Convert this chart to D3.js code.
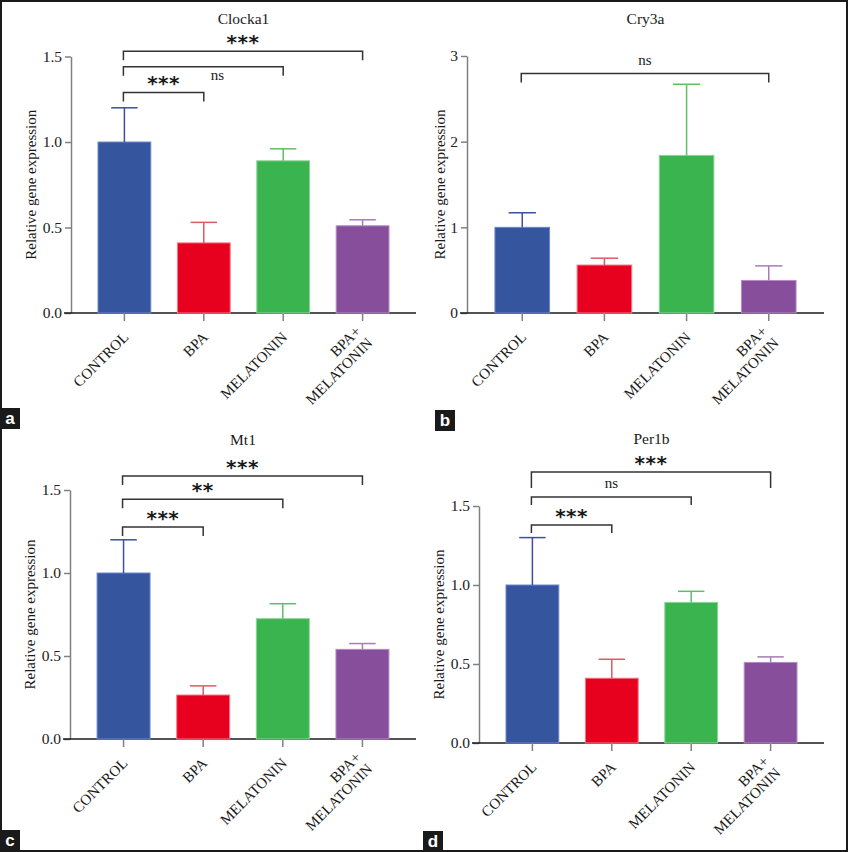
<!DOCTYPE html>
<html>
<head>
<meta charset="utf-8">
<script src="https://cdn.jsdelivr.net/npm/d3@7"></script>
<style>
    body { margin: 0; background: #fff; }
</style>
</head>
<body>
<svg id="fig" width="848" height="852" font-family="'Liberation Serif', 'Times New Roman', serif"></svg>
<script>
'use strict';

var groups = ['CONTROL', 'BPA', 'MELATONIN', 'BPA+\nMELATONIN'];
var barColors = ['#35559f', '#e8001f', '#3ab44f', '#874f9b'];
var edgeColors = ['#6f88c9', '#f27a8c', '#8fd39a', '#b58ac6'];
var errColors = ['#3c4fa0', '#dc5a63', '#5fbd66', '#a47cbc'];

var clockaMean = [1.00, 0.41, 0.89, 0.51];
var clockaSd = [0.20, 0.12, 0.07, 0.035];
var cryMean = [1.00, 0.56, 1.84, 0.38];
var crySd = [0.17, 0.08, 0.83, 0.17];
var mtMean = [1.00, 0.265, 0.725, 0.54];
var mtSd = [0.20, 0.055, 0.09, 0.035];
var perMean = [1.00, 0.41, 0.89, 0.51];
var perSd = [0.30, 0.12, 0.07, 0.035];

var ticksHalf = [0, 0.5, 1.0, 1.5];
var ticksWhole = [0, 1, 2, 3];

// comparisons: [from group, to group, bracket level, label]
var clockaSig = [[0, 3, 1.53, '***'], [0, 2, 1.44, 'ns'], [0, 1, 1.29, '***']];
var crySig = [[0, 3, 2.795, 'ns']];
var mtSig = [[0, 3, 1.585, '***'], [0, 2, 1.445, '**'], [0, 1, 1.277, '***']];
var perSig = [[0, 3, 1.715, '***'], [0, 2, 1.557, 'ns'], [0, 1, 1.38, '***']];

var panels = [
    { tag: 'a', title: 'Clocka1', mean: clockaMean, sd: clockaSd, sig: clockaSig, ticks: ticksHalf, fmt: '.1f',
      axisX: 71, xEnd: 416, y0: 313, yTop: 56.5, titleY: 24, labelX: 31, tagAt: [0, 408],
      legs: [9, 9, 9], nudge: [[0, 0], [14, 22], [0, 0]] },
    { tag: 'b', title: 'Cry3a', mean: cryMean, sd: crySd, sig: crySig, ticks: ticksWhole, fmt: 'd',
      axisX: 467, xEnd: 824, y0: 313, yTop: 56, titleY: 24, labelX: 440, tagAt: [435, 410],
      legs: [9], nudge: [[0, 0]] },
    { tag: 'c', title: 'Mt1', mean: mtMean, sd: mtSd, sig: mtSig, ticks: ticksHalf, fmt: '.1f',
      axisX: 70, xEnd: 416, y0: 739, yTop: 490, titleY: 445, labelX: 30, tagAt: [0, 830],
      legs: [9, 9, 9], nudge: [[0, 0], [0, 0], [0, 0]] },
    { tag: 'd', title: 'Per1b', mean: perMean, sd: perSd, sig: perSig, ticks: ticksHalf, fmt: '.1f',
      axisX: 479, xEnd: 824, y0: 743, yTop: 506, titleY: 444, labelX: 439, tagAt: [423, 831],
      legs: [16, 8, 8], nudge: [[0, 0], [0, 0], [0, 0]] }
];

var svg = d3.select('#fig');

svg.append('rect')
    .attr('x', 1).attr('y', 1)
    .attr('width', 846).attr('height', 850)
    .attr('fill', 'none')
    .attr('stroke', '#1a1a1a')
    .attr('stroke-width', 2);

panels.forEach(function (p) {
    var g = svg.append('g');
    var y = d3.scaleLinear()
        .domain([0, p.ticks[p.ticks.length - 1]])
        .range([p.y0, p.yTop]);
    var x = d3.scaleBand()
        .domain(groups)
        .range([p.axisX, p.xEnd])
        .paddingInner(0.335)
        .paddingOuter(0.34);
    var bw = x.bandwidth();
    var cx = function (i) { return x(groups[i]) + bw / 2; };

    // y axis
    var ya = g.append('g')
        .attr('transform', 'translate(' + p.axisX + ',0)')
        .call(d3.axisLeft(y).tickValues(p.ticks).tickFormat(d3.format(p.fmt))
            .tickSize(6).tickSizeOuter(0).tickPadding(3));
    ya.select('.domain').attr('stroke', '#808080').attr('stroke-width', 1.5);
    ya.selectAll('.tick line').attr('stroke', '#808080').attr('stroke-width', 1.5);
    ya.selectAll('.tick text')
        .attr('font-family', 'Liberation Serif')
        .attr('font-size', 15.5)
        .attr('fill', '#222');

    // x axis
    var xa = g.append('g')
        .attr('transform', 'translate(0,' + y(0) + ')')
        .call(d3.axisBottom(x).tickSize(8).tickSizeOuter(0).tickFormat(''));
    xa.select('.domain')
        .attr('d', 'M' + (p.axisX - 7) + ',0H' + p.xEnd)
        .attr('stroke', '#1a1a1a')
        .attr('stroke-width', 1.5);
    xa.selectAll('.tick line').attr('stroke', '#808080').attr('stroke-width', 1.5);

    // bars
    g.selectAll('rect.bar')
        .data(p.mean)
        .enter().append('rect')
        .attr('class', 'bar')
        .attr('x', function (d, i) { return x(groups[i]); })
        .attr('y', function (d) { return y(d); })
        .attr('width', bw)
        .attr('height', function (d) { return y(0) - y(d); })
        .attr('fill', function (d, i) { return barColors[i]; })
        .attr('stroke', function (d, i) { return edgeColors[i]; })
        .attr('stroke-width', 1);

    // error bars (upper only)
    var err = g.selectAll('g.err')
        .data(p.mean)
        .enter().append('g')
        .attr('class', 'err')
        .attr('stroke', function (d, i) { return errColors[i]; })
        .attr('stroke-width', 1.5);
    err.append('line')
        .attr('x1', function (d, i) { return cx(i); })
        .attr('x2', function (d, i) { return cx(i); })
        .attr('y1', function (d) { return y(d); })
        .attr('y2', function (d, i) { return y(d + p.sd[i]); });
    err.append('line')
        .attr('x1', function (d, i) { return cx(i) - bw / 4; })
        .attr('x2', function (d, i) { return cx(i) + bw / 4; })
        .attr('y1', function (d, i) { return y(d + p.sd[i]); })
        .attr('y2', function (d, i) { return y(d + p.sd[i]); });

    // significance brackets
    p.sig.forEach(function (s, k) {
        var x1 = cx(s[0]) - 1, x2 = cx(s[1]);
        var yl = y(s[2]);
        g.append('path')
            .attr('d', 'M' + x1 + ',' + (yl + p.legs[k]) + 'V' + yl + 'H' + x2 + 'V' + (yl + p.legs[k]))
            .attr('fill', 'none')
            .attr('stroke', '#333')
            .attr('stroke-width', 1.5);
        var lx = (x1 + x2) / 2 + p.nudge[k][0];
        var ly = yl - 13 + p.nudge[k][1];
        var stars = s[3].charAt(0) === '*';
        g.append('text')
            .attr('x', lx)
            .attr('y', stars ? ly + 11 : ly + 4)
            .attr('text-anchor', 'middle')
            .attr('font-family', stars ? 'DejaVu Sans' : 'Liberation Serif')
            .attr('font-weight', stars ? 'bold' : 'normal')
            .attr('font-size', stars ? 20 : 15)
            .attr('letter-spacing', stars ? 0.5 : 0)
            .attr('fill', '#1a1a1a')
            .text(s[3]);
    });

    // category labels, rotated
    var lab = g.selectAll('text.cat')
        .data(groups)
        .enter().append('text')
        .attr('class', 'cat')
        .attr('transform', function (d, i) {
            return 'translate(' + (cx(i) + 5) + ',' + (y(0) + 25) + ') rotate(-45)';
        })
        .attr('text-anchor', 'end')
        .attr('font-size', 15)
        .attr('fill', '#1a1a1a');
    lab.each(function (d) {
        var lines = d.split('\n');
        var t = d3.select(this);
        lines.forEach(function (ln, j) {
            t.append('tspan')
                .attr('x', 0)
                .attr('dy', j === 0 ? (-(lines.length - 1) * 0.55) + 'em' : '1.1em')
                .text(ln);
        });
    });

    // titles
    g.append('text')
        .attr('x', (p.axisX + p.xEnd) / 2)
        .attr('y', p.titleY)
        .attr('text-anchor', 'middle')
        .attr('font-size', 15.5)
        .attr('fill', '#1a1a1a')
        .text(p.title);

    g.append('text')
        .attr('transform', 'translate(' + p.labelX + ',' + (p.y0 + p.yTop) / 2 + ') rotate(-90)')
        .attr('dy', '0.35em')
        .attr('text-anchor', 'middle')
        .attr('font-size', 15)
        .attr('fill', '#1a1a1a')
        .text('Relative gene expression');

    // panel tag
    g.append('rect')
        .attr('x', p.tagAt[0]).attr('y', p.tagAt[1])
        .attr('width', 20).attr('height', 21)
        .attr('fill', '#1a1a1a');
    g.append('text')
        .attr('x', p.tagAt[0] + 10)
        .attr('y', p.tagAt[1] + 16)
        .attr('text-anchor', 'middle')
        .attr('font-family', 'Liberation Sans')
        .attr('font-weight', 'bold')
        .attr('font-size', 17)
        .attr('fill', '#fff')
        .text(p.tag);
});
</script>
</body>
</html>
